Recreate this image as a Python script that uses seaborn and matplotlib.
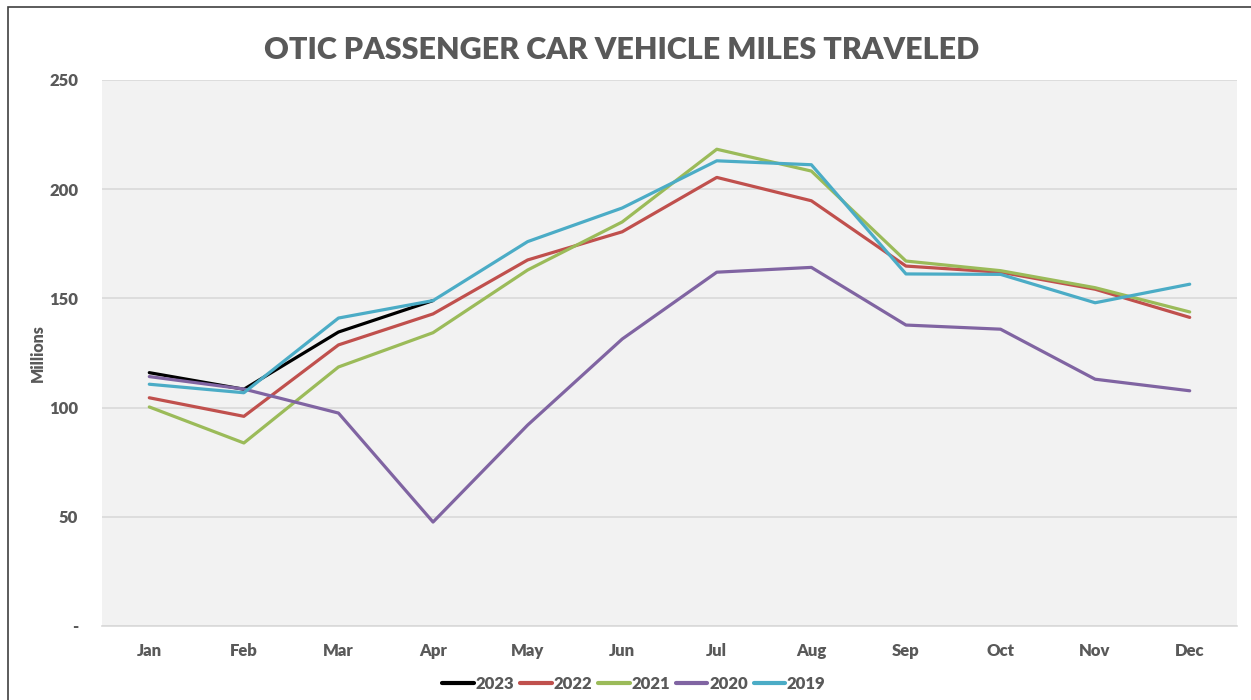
import pandas as pd
import seaborn as sns
import matplotlib.pyplot as plt
from matplotlib.patches import Rectangle

months = ["Jan", "Feb", "Mar", "Apr", "May", "Jun",
          "Jul", "Aug", "Sep", "Oct", "Nov", "Dec"]
years = ["2023", "2022", "2021", "2020", "2019"]

v2023 = [116.0, 108.4, 134.6, 149.0]
v2022 = [104.5, 96.0, 128.7, 142.9, 167.6, 180.5, 205.4, 194.7, 164.8, 162.0, 154.2, 141.3]
v2021 = [100.3, 83.8, 118.6, 134.3, 163.0, 185.0, 218.3, 208.3, 167.1, 162.7, 154.9, 143.8]
v2020 = [114.2, 108.5, 97.5, 47.6, 92.0, 131.4, 162.0, 164.2, 137.8, 135.9, 113.0, 107.7]
v2019 = [110.7, 106.8, 141.0, 149.0, 176.0, 191.4, 213.0, 211.2, 161.2, 161.0, 148.0, 156.5]

colors = ["#000000", "#C0504D", "#9BBB59", "#8064A2", "#4BACC6"]

rows = []
for yr, vals in zip(years, [v2023, v2022, v2021, v2020, v2019]):
    for m, v in zip(months, vals):
        rows.append({"month": m, "year": yr, "miles": v})
df = pd.DataFrame(rows)

sns.set_theme(style="white")
plt.rcParams['font.family'] = ['Lato', 'DejaVu Sans']
text_col = "#595959"

fig = plt.figure(figsize=(12.51, 7.0), dpi=100)
ax = fig.add_axes([102 / 1251, 1 - 626 / 700, (1237 - 102) / 1251, (626 - 80) / 700])
ax.set_facecolor("#F2F2F2")

sns.lineplot(data=df, x="month", y="miles", hue="year", hue_order=years,
             palette=colors, linewidth=2.3, sort=False, ax=ax, zorder=3)

ax.set_xlim(-0.5, 11.5)
ax.set_ylim(0, 250)
ax.set_yticks([0, 50, 100, 150, 200, 250])
ax.set_yticklabels(["-", "50", "100", "150", "200", "250"])
ax.yaxis.grid(True, color="#D9D9D9", linewidth=1.2, zorder=0)
ax.xaxis.grid(False)
for s in ["top", "right", "left"]:
    ax.spines[s].set_visible(False)
ax.spines["bottom"].set_color("#D9D9D9")
ax.spines["bottom"].set_linewidth(1.2)
ax.tick_params(axis="both", length=0, colors=text_col, labelsize=12)
ax.tick_params(axis="x", pad=12)
ax.tick_params(axis="y", pad=17)
for lab in ax.get_xticklabels() + ax.get_yticklabels():
    lab.set_fontweight("heavy")
    lab.set_color(text_col)

ax.set_xlabel("")
ax.set_ylabel("Millions", fontsize=11.5, fontweight="heavy", color=text_col)
ax.yaxis.set_label_coords(-56 / 1135, 0.5)

fig.text(622 / 1251, 1 - 50 / 700, "OTIC PASSENGER CAR VEHICLE MILES TRAVELED",
         ha="center", va="center", fontsize=22, fontweight="heavy", color=text_col)

handles, labels = ax.get_legend_handles_labels()
ax.legend_.remove()
leg = fig.legend(handles, labels, loc="center", bbox_to_anchor=(634 / 1251, 1 - 684 / 700),
                 ncol=5, frameon=False, handlelength=1.9, handletextpad=0.1,
                 columnspacing=0.35, prop={"weight": "heavy", "size": 12})
for t in leg.get_texts():
    t.set_color(text_col)
for h in leg.get_lines():
    h.set_linewidth(3)

fig.patches.append(Rectangle((8 / 1251, -0.01), 1.0, 1 - 7 / 700 + 0.01,
                             transform=fig.transFigure, fill=False,
                             edgecolor="#404040", linewidth=1.2))

plt.savefig("out.png", dpi=100)
